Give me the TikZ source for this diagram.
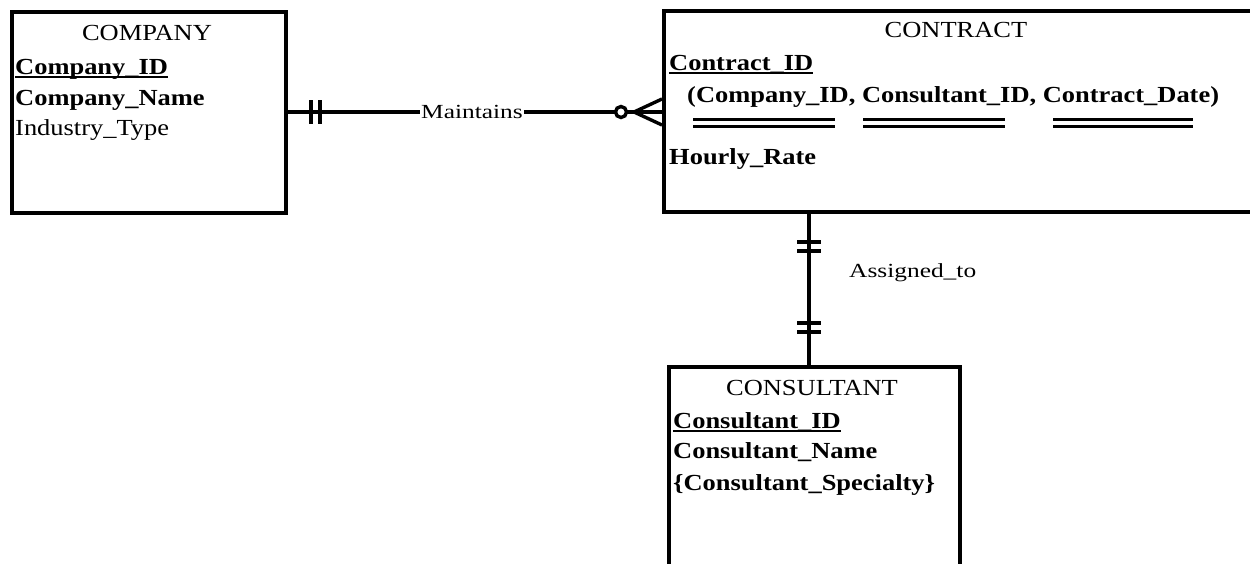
\documentclass[tikz,border=0pt]{standalone}
\usepackage{fontspec}
\setmainfont{Liberation Serif}[FakeStretch=1.15]
\newfontfamily\relfont{Liberation Serif}[FakeStretch=1.27]
\newcommand\keyu[1]{\setbox0\hbox{#1}\rlap{\rule[-3.5pt]{\wd0}{1.8pt}}\box0}
\begin{document}
\begin{tikzpicture}[x=1pt,y=-1pt,
  entbox/.style={draw, line width=3.5pt, anchor=north west, inner sep=0pt},
  conn/.style={line width=3.5pt},
  tick/.style={line width=3.4pt},
  txt/.style={inner sep=0pt, anchor=base west, font=\fontsize{23}{31}\selectfont},
  ttl/.style={inner sep=0pt, anchor=base, font=\fontsize{23}{31}\selectfont},
  rel/.style={inner sep=0pt, font=\relfont\fontsize{20}{24}\selectfont},
  dbl/.style={line width=3.2pt}]
\useasboundingbox (0,0) rectangle (1250,563);
\fill[white] (0,0) rectangle (1250,563);
% entities
\node[entbox, minimum width=274pt, minimum height=201pt] (company) at (10,10) {};
\node[entbox, minimum width=620pt, minimum height=201pt] (contract) at (662,9) {};
\node[entbox, minimum width=291pt, minimum height=260pt] (consultant) at (667,365) {};
% company text
\node[ttl] (ctitle) at (147,40) {COMPANY};
\node[txt] (cid) at (15,74) {\bfseries\keyu{Company\_ID}};
\node[txt] (cname) at (15,105) {\bfseries Company\_Name};
\node[txt] (ctype) at (15,135) {Industry\_Type};
% contract text
\node[ttl] (ktitle) at (956,37) {CONTRACT};
\node[txt] (kid) at (669,70) {\bfseries\keyu{Contract\_ID}};
\node[txt] (kkey) at (687,102) {\bfseries (Company\_ID, Consultant\_ID, Contract\_Date)};
\node[txt] (krate) at (669,164) {\bfseries Hourly\_Rate};
\foreach \a/\b in {693/835,863/1005,1053/1193}{
  \draw[dbl] (\a,119.5) -- (\b,119.5);
  \draw[dbl] (\a,126.5) -- (\b,126.5);
}
% consultant text
\node[ttl] (stitle) at (812,395) {CONSULTANT};
\node[txt] (sid) at (673,428) {\bfseries\keyu{Consultant\_ID}};
\node[txt] (sname) at (673,458) {\bfseries Consultant\_Name};
\node[txt] (sspec) at (673,490) {\bfseries\{Consultant\_Specialty\}};
% Maintains relationship
\coordinate (my) at (0,112);
\draw[conn] (company.east |- my) -- (contract.west |- my);
\node[rel, fill=white, inner xsep=1pt] (maint) at (472,112) {Maintains};
\draw[tick] (311,100) -- (311,124);
\draw[tick] (320,100) -- (320,124);
\coordinate (cf) at (634,112);
\draw[tick] (cf) -- (contract.west |- 0,99);
\draw[tick] (cf) -- (contract.west |- 0,125);
\draw[tick, fill=white] (621,112) circle (5.5);
% Assigned_to relationship
\coordinate (vx) at (809,0);
\draw[conn] (contract.south -| vx) -- (consultant.north -| vx);
\draw[tick] (797,242) -- (821,242);
\draw[tick] (797,251) -- (821,251);
\draw[tick] (797,323) -- (821,323);
\draw[tick] (797,332) -- (821,332);
\node[rel, anchor=base west] (assign) at (849,277) {Assigned\_to};
\end{tikzpicture}
\end{document}
